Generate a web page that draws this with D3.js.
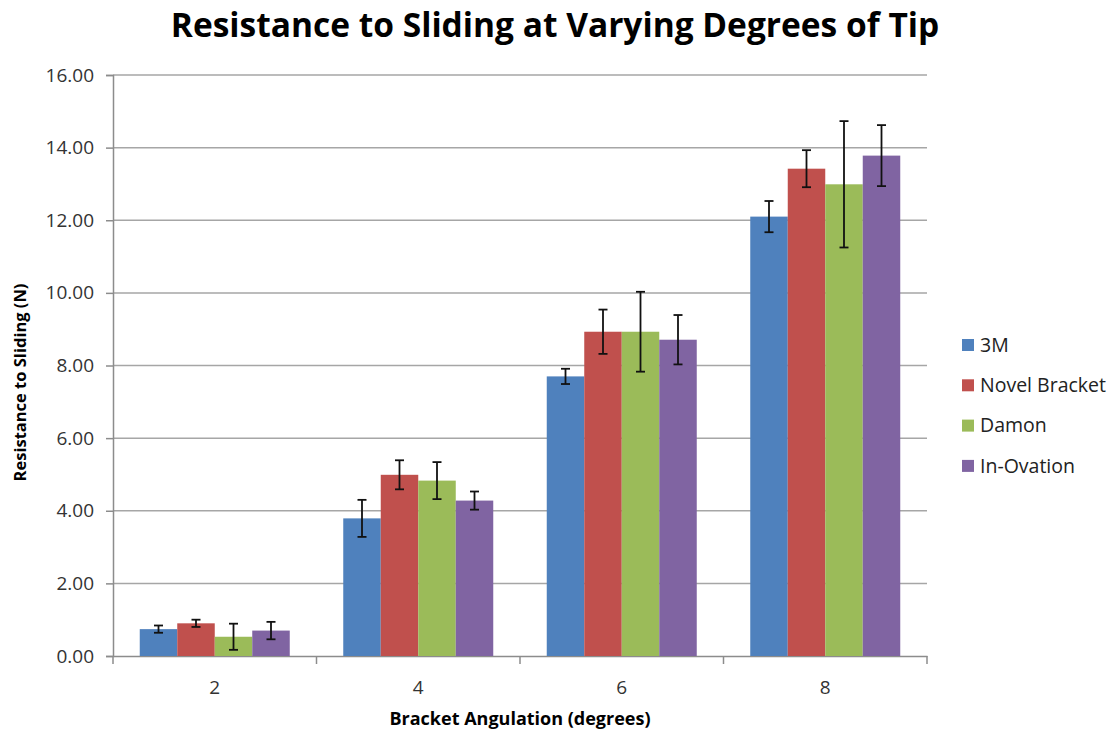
<!DOCTYPE html>
<html><head><meta charset="utf-8">
<script src="https://cdn.jsdelivr.net/npm/d3@7"></script>
<style>body{margin:0;background:#fff;}text{font-family:"Open Sans","Noto Sans",sans-serif;}</style>
</head><body><svg id="c" width="1115" height="735"></svg>
<script>
const categories = ["2", "4", "6", "8"];
const seriesNames = ["3M", "Novel Bracket", "Damon", "In-Ovation"];
const seriesColors = ["#4F81BD", "#C0504D", "#9BBB59", "#8064A2"];
const values3M = [0.74, 3.79, 7.70, 12.10];
const valuesNovel = [0.90, 4.99, 8.93, 13.42];
const valuesDamon = [0.53, 4.83, 8.93, 12.99];
const valuesInOvation = [0.70, 4.28, 8.71, 13.78];
const err3M = [0.10, 0.51, 0.21, 0.43];
const errNovel = [0.10, 0.40, 0.61, 0.51];
const errDamon = [0.36, 0.51, 1.10, 1.74];
const errInOvation = [0.24, 0.25, 0.68, 0.84];
const yTicks = [0, 2, 4, 6, 8, 10, 12, 14, 16];

const allValues = [values3M, valuesNovel, valuesDamon, valuesInOvation];
const allErr = [err3M, errNovel, errDamon, errInOvation];

const svg = d3.select("#c");
const L = 113, R = 927, T = 75, B = 656;
const x = d3.scaleBand().domain(categories).range([L, R]).paddingInner(0).paddingOuter(0);
const gap = 53.5 / 203.5;
const x1 = d3.scaleBand().domain(seriesNames).range([x.bandwidth()*gap/2, x.bandwidth()*(1-gap/2)]);
const y = d3.scaleLinear().domain([0, 16]).range([B, T]);

// gridlines
svg.append("g").selectAll("line").data(yTicks.filter(d=>d>0)).join("line")
  .attr("x1", L).attr("x2", R).attr("y1", d=>y(d)).attr("y2", d=>y(d))
  .attr("stroke", "#a6a6a6").attr("stroke-width", 1.5);

// y axis
const ya = svg.append("g").attr("transform", `translate(${L},0)`)
  .call(d3.axisLeft(y).tickValues(yTicks).tickFormat(d3.format(".2f")).tickSize(7).tickPadding(12));
ya.select(".domain").attr("stroke", "#8c8c8c").attr("stroke-width", 1.5);
ya.selectAll(".tick line").attr("stroke", "#8c8c8c").attr("stroke-width", 1.5);
ya.selectAll(".tick text").attr("font-size", 19).attr("fill", "#333").style("font-family", '"Open Sans",sans-serif');

// x axis
const xa = svg.append("g").attr("transform", `translate(0,${B})`)
  .call(d3.axisBottom(x).tickSize(0).tickPadding(25));
xa.select(".domain").attr("stroke", "#8c8c8c").attr("stroke-width", 1.5);
xa.selectAll(".tick text").attr("font-size", 19).attr("fill", "#333").style("font-family", '"Open Sans",sans-serif');
svg.append("g").selectAll("line").data(categories.concat(["end"])).join("line")
  .attr("x1", (d,i)=> i < categories.length ? x(d) : R).attr("x2", (d,i)=> i < categories.length ? x(d) : R)
  .attr("y1", B).attr("y2", B+8).attr("stroke", "#8c8c8c").attr("stroke-width", 1.5);

// bars
seriesNames.forEach((s, si) => {
  const g = svg.append("g");
  g.selectAll("rect").data(categories).join("rect")
    .attr("x", c => x(c) + x1(s)).attr("width", x1.bandwidth())
    .attr("y", (c,i) => y(allValues[si][i])).attr("height", (c,i) => B - y(allValues[si][i]))
    .attr("fill", seriesColors[si]);
});
// error bars
seriesNames.forEach((s, si) => {
  const g = svg.append("g").attr("stroke", "#111").attr("stroke-width", 1.8);
  categories.forEach((c, i) => {
    const cx = x(c) + x1(s) + x1.bandwidth()/2;
    const hi = y(allValues[si][i] + allErr[si][i]);
    const lo = y(allValues[si][i] - allErr[si][i]);
    g.append("line").attr("x1", cx).attr("x2", cx).attr("y1", hi).attr("y2", lo);
    g.append("line").attr("x1", cx-4.5).attr("x2", cx+4.5).attr("y1", hi).attr("y2", hi);
    g.append("line").attr("x1", cx-4.5).attr("x2", cx+4.5).attr("y1", lo).attr("y2", lo);
  });
});

// title
svg.append("text").attr("x", 555).attr("y", 37).attr("text-anchor", "middle")
  .attr("font-size", 33.5).attr("font-weight", "bold").attr("fill", "#000")
  .text("Resistance to Sliding at Varying Degrees of Tip");
// axis titles
svg.append("text").attr("x", 520).attr("y", 725).attr("text-anchor", "middle")
  .attr("font-size", 18).attr("font-weight", "bold").attr("fill", "#000")
  .text("Bracket Angulation (degrees)");
svg.append("text").attr("transform", `translate(26,${(T+B)/2+17}) rotate(-90)`).attr("text-anchor", "middle")
  .attr("font-size", 16.5).attr("font-weight", "bold").attr("fill", "#000")
  .text("Resistance to Sliding (N)");

// legend
const lg = svg.append("g").selectAll("g").data(seriesNames).join("g")
  .attr("transform", (d,i) => `translate(962,${345 + i*40.3})`);
lg.append("rect").attr("x", 0).attr("y", -6).attr("width", 12).attr("height", 12).attr("fill", (d,i)=>seriesColors[i]);
lg.append("text").attr("x", 18).attr("y", 0).attr("dy", "0.35em").attr("font-size", 19.5).attr("fill", "#222").text(d=>d);
</script></body></html>
